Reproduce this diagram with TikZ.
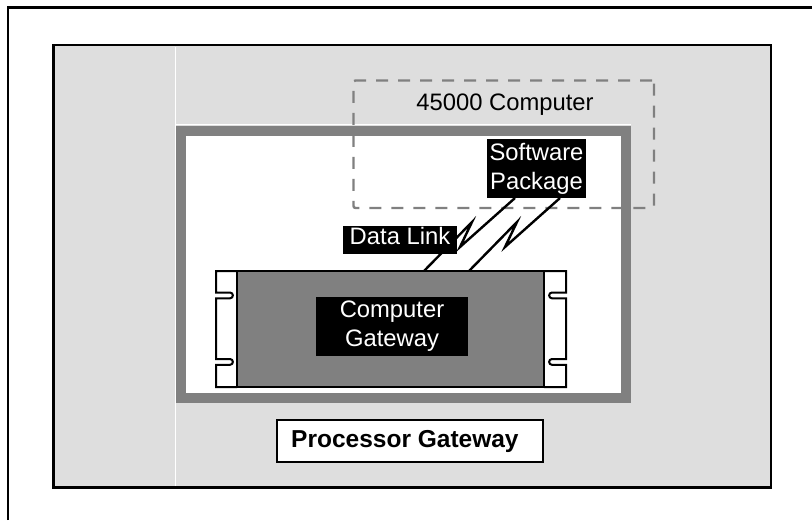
\documentclass[tikz,border=0pt]{standalone}
\usepackage{fontspec}
\setmainfont{Liberation Sans}
\usetikzlibrary{calc}
\definecolor{panelgrey}{HTML}{DEDEDE}
\definecolor{midgrey}{HTML}{808080}
\begin{document}
\begin{tikzpicture}[x=1pt,y=-1pt,
  lbl/.style={font=\fontsize{23.8}{29}\selectfont},
  darkbox/.style={fill=black,text=white,inner sep=0pt,outer sep=0pt,align=center,lbl},
  link/.style={line width=2.4pt,line join=miter,line cap=butt},
  ear/.style={draw=black,fill=white,line width=2pt,line join=miter},
  rack/.style={draw=black,fill=midgrey,line width=2pt,inner sep=0pt,outer sep=0pt},
  hostbox/.style={draw=midgrey,line width=2.4pt,dash pattern=on 12pt off 10pt,rounded corners=2pt,inner sep=0pt,outer sep=0pt},
  titlebox/.style={draw=black,fill=white,line width=2.4pt,inner sep=0pt,outer sep=0pt}]
\useasboundingbox (0,0) rectangle (812,520);

% outer frame (top and left edges)
\draw[line width=2.2pt] (8.3,520) -- (8.3,7.5) -- (812,7.5);

% grey panel
\draw[fill=panelgrey,line width=2.8pt] (53.5,45) rectangle (771,487.5);

% highlight lines
\draw[white,line width=1.5pt] (175.5,46.5) -- (175.5,486);
\draw[white,line width=1.5pt] (174.75,124.5) -- (631,124.5);

% enclosure
\draw[midgrey,fill=white,line width=10pt] (181,131) rectangle (626,398);

% host computer outline
\node[hostbox,minimum width=300.5pt,minimum height=127.5pt] (host) at (503.75,144.25) {};
\node[lbl,anchor=base] (hostlbl) at (505,110) {45000 Computer};

% rack ears
\draw[ear] (237,271) -- (216,271) -- (216,292.5) -- (230,292.5)
  .. controls (233.8,292.5) and (233.8,298.3) .. (230,298.3)
  -- (216,298.3) -- (216,359) -- (230,359)
  .. controls (233.8,359) and (233.8,364.8) .. (230,364.8)
  -- (216,364.8) -- (216,387) -- (237,387);
\draw[ear] (544,271) -- (566,271) -- (566,292.5) -- (552,292.5)
  .. controls (548.2,292.5) and (548.2,298.3) .. (552,298.3)
  -- (566,298.3) -- (566,359) -- (552,359)
  .. controls (548.2,359) and (548.2,364.8) .. (552,364.8)
  -- (566,364.8) -- (566,387) -- (544,387);

% rack unit
\node[rack,minimum width=307pt,minimum height=116pt] (gw) at (390.5,329) {};
\node[darkbox,minimum width=152pt,minimum height=59pt] (gwlbl) at (392,326.5) {Computer\\Gateway};

% software package
\node[darkbox,minimum width=99pt,minimum height=59pt] (sw) at (536.5,168.5) {Software\\Package};

% data links
\coordinate (l1a) at ($(gw.north west)+(187,0)$);
\coordinate (l2a) at ($(gw.north west)+(232,0)$);
\coordinate (l1b) at ($(sw.south west)+(28,0)$);
\coordinate (l2b) at ($(sw.south west)+(73,0)$);
\draw[link] (l1a) -- ++(48,-49) -- ++(-12,25) -- (l1b);
\draw[link] (l2a) -- ++(48,-49) -- ++(-12,25) -- (l2b);

\node[darkbox,minimum width=114pt,minimum height=28pt,text depth=8pt] (dl) at (400,240) {Data Link};

% title
\node[titlebox,minimum width=266pt,minimum height=42pt] (pg) at (410,441) {};
\node[font=\fontsize{24.5}{29}\selectfont\bfseries,anchor=base west,inner sep=0pt] (pglbl) at (291,447.3) {Processor Gateway};
\end{tikzpicture}
\end{document}
